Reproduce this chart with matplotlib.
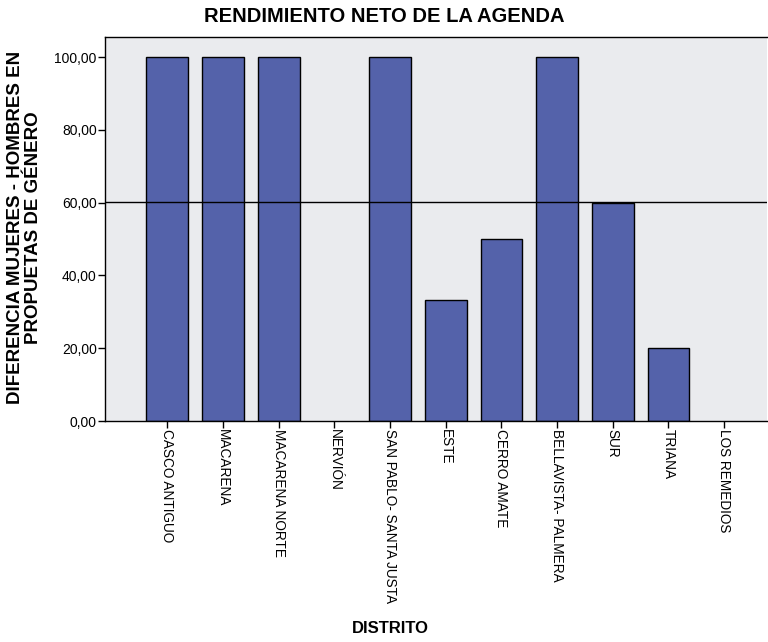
import matplotlib.pyplot as plt

plt.rcParams['font.family'] = ['Liberation Sans', 'DejaVu Sans']

distritos = ["CASCO ANTIGUO", "MACARENA", "MACARENA NORTE", "NERVIÓN",
             "SAN PABLO- SANTA JUSTA", "ESTE", "CERRO AMATE",
             "BELLAVISTA- PALMERA", "SUR", "TRIANA", "LOS REMEDIOS"]
diferencia = [100.0, 100.0, 100.0, 0.0, 100.0, 33.33, 50.0, 100.0, 60.0, 20.0, 0.0]
y_ticks = [0, 20, 40, 60, 80, 100]

media = sum(diferencia) / len(diferencia)

fig = plt.figure(figsize=(7.68, 6.42), dpi=100)
ax = fig.add_axes([0.1367, 0.3442, 0.862, 0.5982])
ax.set_facecolor('#eaebee')

x = list(range(len(distritos)))
# bars of height 0 are not outlined in the reference
edges = ['black' if v > 0 else 'none' for v in diferencia]
ax.bar(x, diferencia, width=0.75, color='#5462aa', edgecolor=edges, linewidth=1, zorder=2)
ax.axhline(media, color='black', linewidth=1, zorder=3)

ax.set_xlim(-1.12, 10.77)
ax.set_ylim(0, 105.5)
ax.set_xticks(x)
ax.set_xticklabels(distritos, rotation=270, fontsize=9.8)
ax.set_yticks(y_ticks)
ax.set_yticklabels([f"{v:.2f}".replace('.', ',') for v in y_ticks], fontsize=10)
ax.tick_params(axis='both', direction='out', length=5, width=1, color='black', pad=1)

for side in ['left', 'bottom', 'top']:
    ax.spines[side].set_color('black')
    ax.spines[side].set_linewidth(1)
ax.spines['right'].set_visible(False)

ax.set_xlabel("DISTRITO", fontsize=12, fontweight='bold')
ax.xaxis.label.set_va('center')
ax.xaxis.set_label_coords(0.4305, -0.539)
ax.set_ylabel("DIFERENCIA MUJERES - HOMBRES EN\nPROPUETAS DE GÉNERO",
              fontsize=13.5, fontweight='bold', linespacing=1.05)
ax.yaxis.label.set_va('center')
ax.yaxis.set_label_coords(-0.1216, 0.503)

fig.text(0.5, 0.975, "RENDIMIENTO NETO DE LA AGENDA", ha='center', va='center',
         fontsize=14.5, fontweight='bold')

fig.savefig('out.png', dpi=100)
